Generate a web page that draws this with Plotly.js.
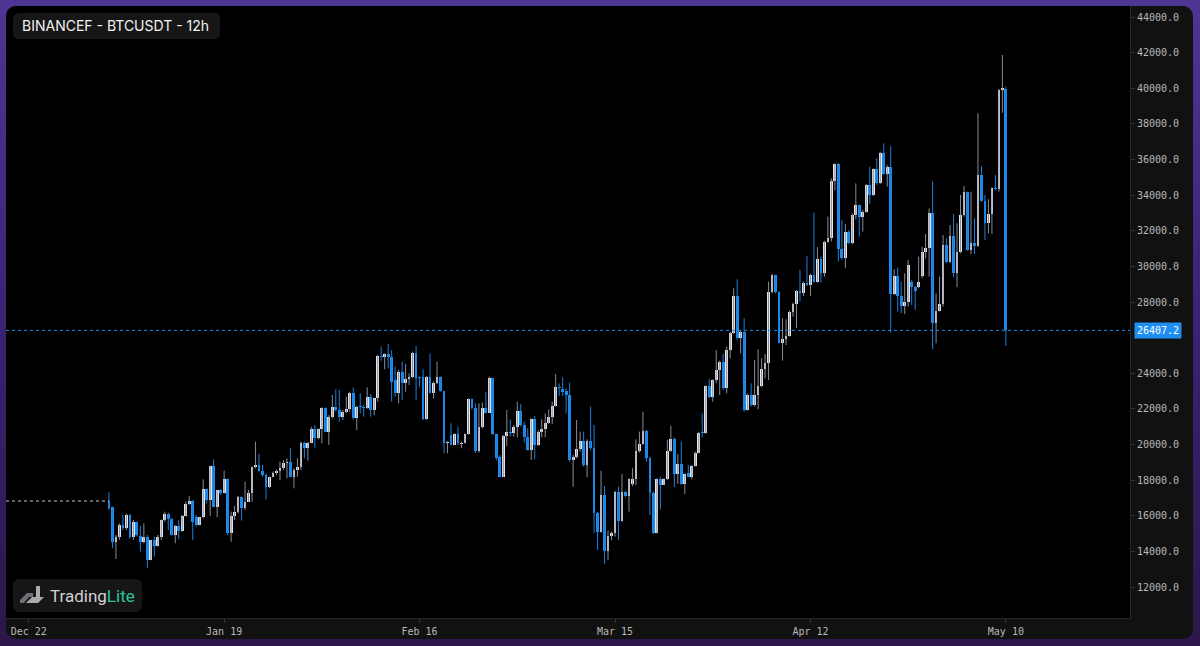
<!DOCTYPE html>
<html>
<head>
<meta charset="utf-8">
<script src="https://cdn.plot.ly/plotly-3.0.1.min.js"></script>
<style>
  html, body { margin:0; padding:0; width:1200px; height:646px; overflow:hidden;
    background: linear-gradient(to bottom, #4d3693 0%, #3a2373 50%, #2c1649 100%); }
  #wrap { position:absolute; left:6px; top:6px; width:1187px; height:633px;
    border-radius:10px; background:#111111; overflow:hidden; }
  #chart { width:1187px; height:633px; }
</style>
</head>
<body>
<div id="wrap"><div id="chart"></div></div>
<script>
// ---- Data (BINANCEF BTCUSDT, 12h candles) ----
const firstCandle = '2024-01-02T12:00:00Z';
const intervalHours = 12;
const lastPrice = 26407.2;

const open = [
16829,16474,14546,14827,15482,15295,16043,14790,15669,14883,14546,14827,13517,14640,14303,14827,15763,16099,15800,14921,
15426,15164,15987,16661,16848,15950,15482,15912,17484,16885,18794,16511,17446,17259,18045,15014,15987,16230,17072,16417,
16792,17259,18719,18850,18532,18288,17596,18157,18382,18513,18663,18943,19037,18195,18569,18757,20104,19786,20104,20852,
20347,20852,22031,20721,21526,22087,21938,21526,21844,21975,22873,21470,22162,22087,22030,22686,21938,22592,24969,24894,
25081,24894,23600,22873,24089,23472,23659,23809,25118,23809,23809,21414,23809,22910,23434,23809,23004,20067,20560,19973,
20590,20030,20104,20590,22536,22031,19655,21002,22031,21788,23715,20590,19318,18196,20478,20721,20628,21002,21900,21096,
20403,19692,21414,19973,20721,20852,21227,21563,22162,23250,23098,23022,22780,19131,19281,19730,20216,18851,20216,19786,
16175,15108,17166,14042,14865,15052,17354,15726,17354,17110,17784,18046,19655,20029,20778,19225,17297,15052,18046,17728,
18046,19655,20291,18345,18907,17784,18420,18196,18794,19543,20700,20628,23285,22650,23622,24184,24652,23155,25307,26280,
28338,25962,26336,21939,22781,22220,22781,23285,24222,24558,28581,29517,28581,25719,25906,26093,27459,27889,28637,28500,
29086,28955,29517,29143,30396,29610,31388,31575,34812,35747,30957,30452,31949,31294,32885,33447,32792,33073,34570,34009,
35449,34700,36385,35187,35599,28452,29462,28340,27778,28021,29144,28826,28845,29462,30828,31015,33017,26805,27497,27890,
31202,30267,31707,29649,30828,32886,34195,30921,31333,31150,35131,33690,32455,32942,34383,34320,39902,39940
];
const high = [
17316,16511,14921,15575,16043,16137,16099,15763,15669,15426,15575,14921,14650,14827,14921,15780,16230,16174,15856,15482,
15763,16043,16792,17110,16885,16043,15950,18045,17540,18800,19168,17460,17484,18532,18101,16230,16548,17110,17080,17914,
17446,18756,20159,19467,18850,18382,18195,18476,18606,19037,19130,19224,19785,18663,19224,20160,20160,20160,21002,21096,
20908,22087,22087,21657,22780,23098,23060,21938,22686,22967,23210,22162,22873,22218,23210,22836,22600,25025,25493,25118,
25642,25305,24370,24183,24650,24520,23996,25212,25530,23820,24220,23846,25118,23528,24650,23820,23022,20200,21189,20627,
21002,20160,20627,22592,22592,22312,22312,22349,22967,23809,23730,20600,19412,20534,21938,21414,21096,22405,22274,21283,
20908,21470,21601,20815,21414,21750,21975,22405,23958,23434,23771,23154,23472,19412,21376,20721,20721,20291,22125,21096,
16231,18532,17671,15164,15108,17410,17634,18345,17410,18102,18670,20291,20721,21844,20815,19318,17354,18102,18196,18102,
20254,21040,20403,19468,20160,18383,18850,18850,19599,20721,21750,23320,23659,23659,25307,24708,25082,25494,26336,28768,
29274,26430,27085,22874,23436,24746,25344,24839,25082,29143,29573,29530,28600,27085,27029,27515,27964,28675,29797,29143,
30583,29573,33015,31070,30546,31444,32791,34943,35785,35822,32604,32380,32042,32978,34662,33460,33167,34626,35599,35506,
36067,36441,36909,35693,36759,29836,29948,29144,29612,30360,29238,28900,30547,31109,31820,33260,34757,28489,29425,31763,
31576,32325,32942,32419,34009,34513,34200,34195,32700,38592,35637,34009,33765,34439,35131,39940,41867,40089
];
const low = [
16324,14172,13573,14640,15201,15201,14696,14640,14827,13985,14453,13049,13500,13704,14266,14640,15669,15201,14900,14453,
14677,15108,15950,16600,14640,15388,15460,15856,16698,15987,16500,15912,17166,17250,14921,14546,15763,16137,15725,16324,
16780,16792,18663,18476,18195,16923,17540,18150,18288,18008,18569,18101,18150,17540,18195,18570,19225,19094,20067,19786,
20291,20067,20700,19973,21470,21844,21283,21376,21750,21844,21414,20815,21750,21564,22000,21564,21657,22405,24707,24220,
24276,22405,22686,22312,22499,22966,23340,23715,22499,23247,21376,21376,22873,22592,23400,22966,19505,19505,19950,19973,
19973,19786,20067,20534,21975,19505,19543,20908,21750,21750,20534,19131,18158,18180,19917,20441,20441,20403,21002,20104,
19655,19131,19169,19917,20403,20403,21152,21152,22125,22723,22723,21750,19037,17634,19225,19599,18757,18158,19692,15015,
14080,15052,13293,13518,14640,14828,14640,15670,17035,16231,17672,17728,19543,19973,19037,16044,14977,15015,16362,17728,
18009,19599,17597,17784,17728,17223,18158,18046,18757,19505,20403,20600,22594,22407,23436,22781,23062,22874,24839,26205,
25868,25120,21846,21902,22126,22126,21977,23211,23717,23623,28488,28488,25681,24708,25588,26056,27178,26523,28020,28338,
28900,28338,29086,29086,29086,29423,31332,31388,34288,30265,30359,29891,31257,31238,32643,31668,31950,33016,33503,33952,
34570,34626,35131,34476,26281,28396,27460,27367,27329,27741,27834,27554,28770,29331,30454,29425,25346,25683,27460,27741,
30173,30173,29387,28826,30735,32792,30884,30697,30697,31100,33634,31483,31857,31819,34280,34196,38630,25533
];
const close = [
16455,14546,14827,15482,15295,16043,14790,15669,14921,14546,14827,13517,14640,14303,14827,15763,16099,15800,14921,15426,
15164,15987,16661,16848,15669,15482,15912,17484,16885,18794,16511,17446,17259,18045,15014,15987,16230,17072,16417,16792,
17259,18719,18850,18532,18288,17596,18157,18382,18513,18663,18943,19037,18195,18569,18756,20104,19786,20104,20852,20347,
20852,22031,20721,21526,22087,21938,21526,21844,21975,22873,21470,22125,22087,22030,22686,21938,22592,24969,24894,25081,
24894,23528,22873,24089,23472,23659,23809,25118,23715,23715,21414,23809,22910,23434,23809,23004,20104,20160,19973,20590,
20067,20104,20590,22536,22031,19655,21002,22031,21788,23715,20590,19225,18196,20478,20721,20628,21002,21900,21096,20403,
19692,21414,19973,20721,20852,21227,21563,22162,23250,23154,22967,22780,19131,19281,19730,20216,18851,20216,19786,16175,
15108,17166,14042,14865,15052,17354,15726,17354,17110,18046,18046,19655,20029,20778,19225,17297,15052,18046,17728,18046,
19655,20291,18345,18907,17784,18345,18196,18794,19543,20665,20628,23285,22650,23622,24184,24652,23155,25307,26280,28338,
25962,26336,21939,22781,22220,22781,23285,24222,24558,28581,29517,28581,25719,25906,26093,27459,27889,28637,28500,29086,
28955,29517,29143,30396,29610,31388,31575,34812,35747,30957,30452,31949,31294,32885,33447,32792,33073,34570,34009,35449,
34700,36385,35187,35599,28452,29462,28340,27778,28021,30080,28826,28639,29125,30828,31015,33017,26805,27497,27890,31202,
30267,31707,29649,30828,32886,34195,30921,31333,31150,35131,33690,32455,32942,34383,34320,39902,40000,26407.2
];

const dateTicks = ['2023-12-22','2024-01-19','2024-02-16','2024-03-15','2024-04-12','2024-05-10'];
const dateTickLabels = ['Dec 22','Jan 19','Feb 16','Mar 15','Apr 12','May 10'];
// 26000.0 sits under the last-price tag, so it is left out as in the reference
const priceTicks = [12000,14000,16000,18000,20000,22000,24000,28000,30000,32000,34000,36000,38000,40000,42000,44000];
const priceTickLabels = ['12000.0','14000.0','16000.0','18000.0','20000.0','22000.0','24000.0','28000.0','30000.0','32000.0','34000.0','36000.0','38000.0','40000.0','42000.0','44000.0'];
const titleText = 'BINANCEF - BTCUSDT - 12h';

// ---- Build traces ----
const stepMs = intervalHours * 3600 * 1000;
const t0 = Date.parse(firstCandle);
const fmt = ms => new Date(ms).toISOString().slice(0,19).replace('T',' ');
const times = open.map((_, i) => fmt(t0 + i * stepMs));

const UP_BODY = '#e2e4ee', UP_WICK = '#8a8c94';
const DN_BODY = '#1e8ef0', DN_WICK = '#1a80dc';

const bodyBase = open.map((o, i) => Math.min(o, close[i]));
const bodyLen = open.map((o, i) => Math.max(Math.abs(close[i] - o), 60));
const bodyCol = open.map((o, i) => close[i] >= o ? UP_BODY : DN_BODY);

const wicks = {
  type: 'ohlc', x: times, open: open, high: high, low: low, close: close,
  tickwidth: 0, hoverinfo: 'skip',
  increasing: { line: { color: UP_WICK, width: 1 } },
  decreasing: { line: { color: DN_WICK, width: 1 } }
};
const bodies = {
  type: 'bar', x: times, y: bodyLen, base: bodyBase, width: stepMs * 0.8,
  marker: { color: bodyCol, line: { width: 0 } }, hoverinfo: 'skip'
};

// ---- Geometry helpers (plot area 1124 x 612 px) ----
const PW = 1124, PH = 612;
const px = x => x / PW, py = y => 1 - y / PH;
function roundRect(x0, y0, x1, y1, r) {
  const rx = r / PW, ry = r / PH;
  const X0 = px(x0), X1 = px(x1), Y0 = py(y0), Y1 = py(y1);
  return `M ${X0+rx} ${Y0} L ${X1-rx} ${Y0} Q ${X1} ${Y0} ${X1} ${Y0-ry} L ${X1} ${Y1+ry} Q ${X1} ${Y1} ${X1-rx} ${Y1} L ${X0+rx} ${Y1} Q ${X0} ${Y1} ${X0} ${Y1+ry} L ${X0} ${Y0-ry} Q ${X0} ${Y0} ${X0+rx} ${Y0} Z`;
}
function poly(pts) {
  return 'M ' + pts.map(p => `${px(p[0])} ${py(p[1])}`).join(' L ') + ' Z';
}

const xStart = '2023-12-18 18:00:00', xEnd = '2024-05-27 18:45:00';

const shapes = [
  { type: 'path', xref: 'paper', yref: 'paper', path: roundRect(7, 7, 214, 33, 6), fillcolor: '#161616', line: { width: 0 } },
  { type: 'path', xref: 'paper', yref: 'paper', path: roundRect(7, 573, 136, 606, 7), fillcolor: '#161616', line: { width: 0 } },
  { type: 'path', xref: 'paper', yref: 'paper', path: poly([[14,594],[21,587],[27,587],[27,591],[23,591],[18,597],[14,597]]), fillcolor: '#6f7075', line: { width: 0 } },
  { type: 'path', xref: 'paper', yref: 'paper', path: poly([[30,580],[34,580],[34,591],[38,591],[32,597],[20,597],[26,591],[30,591]]), fillcolor: '#a9aaae', line: { width: 0 } },
  { type: 'line', xref: 'paper', yref: 'y', x0: 0, x1: 1, y0: lastPrice, y1: lastPrice, line: { color: '#1e8ef0', width: 1, dash: 'dot' } },
  { type: 'line', xref: 'x', yref: 'y', x0: xStart, x1: times[0], y0: open[0], y1: open[0], line: { color: '#c8c8c8', width: 1, dash: 'dot' } }
];

const monoFont = 'DejaVu Sans Mono, monospace';
const annotations = [
  { xref: 'paper', yref: 'paper', x: px(14), y: py(20), xanchor: 'left', yanchor: 'middle', showarrow: false,
    text: titleText, font: { family: 'Inter, Liberation Sans, sans-serif', size: 14, color: '#f2f2f2' } },
  { xref: 'paper', yref: 'paper', x: px(42), y: py(590), xanchor: 'left', yanchor: 'middle', showarrow: false,
    text: 'Trading<span style="color:#2ec4a0">Lite</span>', font: { family: 'Roboto, sans-serif', size: 17, color: '#cfd0d4' } },
  { xref: 'paper', yref: 'y', x: 1, y: lastPrice, xanchor: 'left', yanchor: 'middle', xshift: 4, showarrow: false,
    text: lastPrice.toFixed(1), bgcolor: '#1e8ef0', borderpad: 2,
    font: { family: monoFont, size: 10, color: '#ffffff' } }
];

const layout = {
  width: 1187, height: 633,
  margin: { l: 0, r: 63, t: 0, b: 21, pad: 0 },
  paper_bgcolor: 'rgba(0,0,0,0)', plot_bgcolor: '#000000',
  showlegend: false, bargap: 0,
  xaxis: {
    type: 'date', range: [xStart, xEnd], showgrid: false, zeroline: false,
    showline: true, linecolor: '#262626', ticks: 'outside', ticklen: 4, tickcolor: '#333333',
    tickmode: 'array', tickvals: dateTicks, ticktext: dateTickLabels,
    tickfont: { family: monoFont, size: 10, color: '#b8b8b8' },
    rangeslider: { visible: false }, fixedrange: true
  },
  yaxis: {
    side: 'right', range: [10260, 44618],
    tickmode: 'array', tickvals: priceTicks, ticktext: priceTickLabels,
    showgrid: false, zeroline: false, showline: true, linecolor: '#262626',
    ticks: 'outside', ticklen: 4, tickcolor: '#333333',
    tickfont: { family: monoFont, size: 10, color: '#b8b8b8' }, fixedrange: true
  },
  shapes: shapes, annotations: annotations
};

Plotly.newPlot('chart', [wicks, bodies], layout, { displayModeBar: false, staticPlot: true });
</script>
</body>
</html>
